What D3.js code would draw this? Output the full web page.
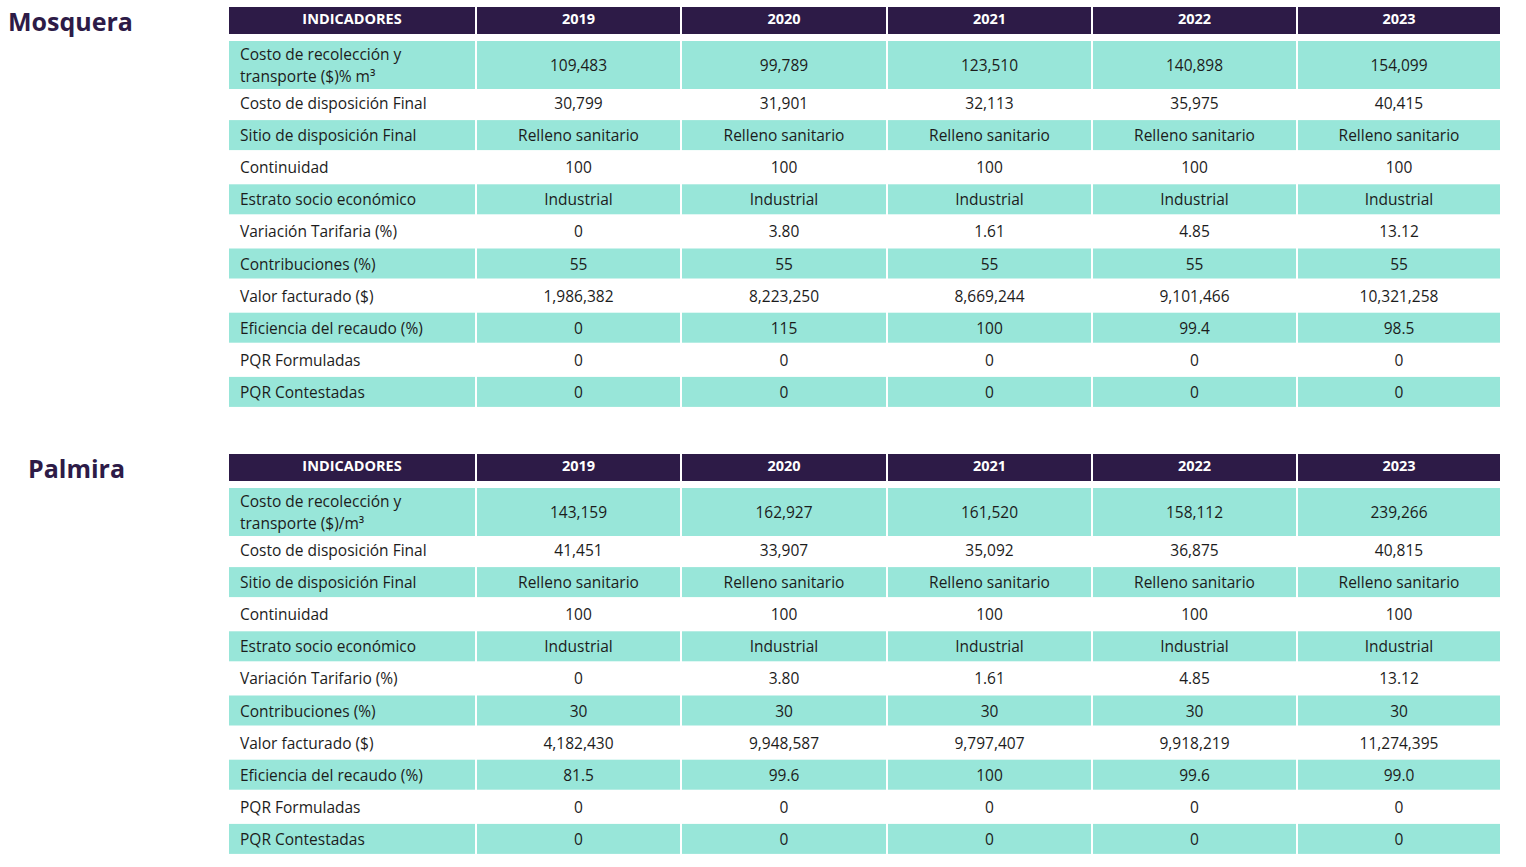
<!DOCTYPE html><html><head><meta charset="utf-8">
<script src="https://cdn.jsdelivr.net/npm/d3@7"></script>
<style>body{margin:0;background:#fff}text{font-family:"Open Sans",sans-serif}</style></head><body>
<svg id="c" width="1526" height="867"></svg>
<script>
const years=["2019","2020","2021","2022","2023"];
const indicators=["Costo de recolección y|transporte ($)% m³","Costo de disposición Final","Sitio de disposición Final","Continuidad","Estrato socio económico","Variación Tarifaria (%)","Contribuciones (%)","Valor facturado ($)","Eficiencia del recaudo (%)","PQR Formuladas","PQR Contestadas"];
const indicatorsP=["Costo de recolección y|transporte ($)/m³","Costo de disposición Final","Sitio de disposición Final","Continuidad","Estrato socio económico","Variación Tarifario (%)","Contribuciones (%)","Valor facturado ($)","Eficiencia del recaudo (%)","PQR Formuladas","PQR Contestadas"];
const mosquera=[
["109,483","99,789","123,510","140,898","154,099"],
["30,799","31,901","32,113","35,975","40,415"],
Array(5).fill("Relleno sanitario"),
Array(5).fill("100"),
Array(5).fill("Industrial"),
["0","3.80","1.61","4.85","13.12"],
Array(5).fill("55"),
["1,986,382","8,223,250","8,669,244","9,101,466","10,321,258"],
["0","115","100","99.4","98.5"],
Array(5).fill("0"),
Array(5).fill("0")];
const palmira=[
["143,159","162,927","161,520","158,112","239,266"],
["41,451","33,907","35,092","36,875","40,815"],
Array(5).fill("Relleno sanitario"),
Array(5).fill("100"),
Array(5).fill("Industrial"),
["0","3.80","1.61","4.85","13.12"],
Array(5).fill("30"),
["4,182,430","9,948,587","9,797,407","9,918,219","11,274,395"],
["81.5","99.6","100","99.6","99.0"],
Array(5).fill("0"),
Array(5).fill("0")];
const svg=d3.select("#c");
const colEdges=[229,477,682,888,1093,1298,1502];
const dark="#2d1b47",teal="#98e6d9",txt="#1c1c1c";
function table(title,tx,top,labels,data){
  svg.append("text").attr("x",tx).attr("y",top+24).attr("font-size",25).attr("font-weight",700).attr("fill",dark).text(title);
  const g=svg.append("g");
  const heads=["INDICADORES",...years];
  heads.forEach((h,i)=>{
    g.append("rect").attr("x",colEdges[i]).attr("y",top).attr("width",colEdges[i+1]-colEdges[i]-2).attr("height",27).attr("fill",dark);
    g.append("text").attr("x",(colEdges[i]+colEdges[i+1]-2)/2).attr("y",top+17).attr("text-anchor","middle").attr("font-size",14.5).attr("font-weight",700).attr("fill","#fff").text(h);
  });
  labels.forEach((lab,r)=>{
    let y0,h;
    if(r===0){y0=top+34;h=48}else{const cy=top+96+(r-1)*32.1;y0=cy-15;h=30}
    const cy=y0+h/2;
    for(let i=0;i<6;i++){
      if(r%2===0) g.append("rect").attr("x",colEdges[i]).attr("y",y0).attr("width",colEdges[i+1]-colEdges[i]-2).attr("height",h).attr("fill",teal);
    }
    const parts=lab.split("|");
    parts.forEach((p,k)=>{
      g.append("text").attr("x",240).attr("y",cy+6+(k-(parts.length-1)/2)*22).attr("font-size",15.5).attr("fill",txt).text(p);
    });
    data[r].forEach((v,i)=>{
      g.append("text").attr("x",(colEdges[i+1]+colEdges[i+2]-2)/2).attr("y",cy+6).attr("text-anchor","middle").attr("font-size",15.5).attr("fill",txt).text(v);
    });
  });
}
table("Mosquera",8,7,indicators,mosquera);
table("Palmira",28,454,indicatorsP,palmira);
</script></body></html>
